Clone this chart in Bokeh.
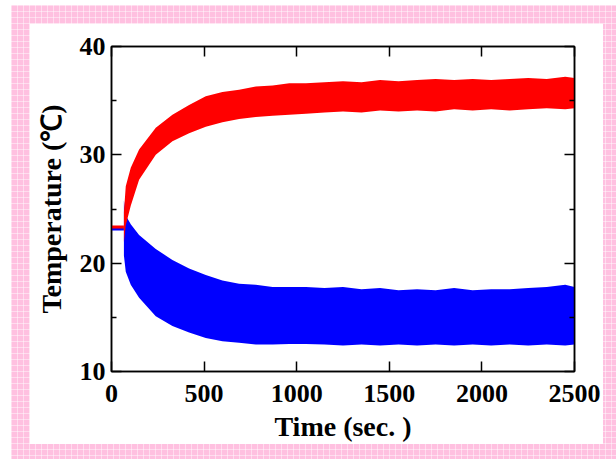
from bokeh.plotting import figure
from bokeh.layouts import column
from bokeh.models import Range1d, LinearAxis, FixedTicker
from bokeh.embed import file_html
from bokeh.resources import INLINE

# ---- data ----
init_time = [0, 67]
init_red = [23.35, 23.35]
init_blue = [23.15, 23.15]

band_time = [67, 77, 104, 149, 239, 329, 419, 509, 599, 689, 779, 870, 960, 1050,
             1150, 1250, 1350, 1450, 1550, 1650, 1750, 1850, 1950, 2050, 2150,
             2250, 2350, 2450, 2500]
red_hi = [24.7, 27.1, 28.8, 30.5, 32.5, 33.7, 34.6, 35.4, 35.8, 36.0, 36.3, 36.4, 36.6, 36.6,
          36.7, 36.8, 36.7, 36.9, 36.8, 36.9, 37.0, 36.9, 37.0, 36.9, 37.0,
          37.1, 37.0, 37.2, 37.1]
red_lo = [21.95, 23.5, 25.3, 27.7, 30.0, 31.25, 32.0, 32.6, 33.0, 33.3, 33.5, 33.6, 33.7, 33.8,
          33.9, 34.0, 33.9, 34.1, 34.0, 34.1, 34.0, 34.2, 34.1, 34.2, 34.1,
          34.2, 34.3, 34.2, 34.3]
blue_hi = [25.8, 24.4, 23.6, 22.6, 21.3, 20.3, 19.5, 18.9, 18.4, 18.1, 18.0, 17.8, 17.8, 17.8,
           17.7, 17.8, 17.6, 17.7, 17.5, 17.6, 17.5, 17.7, 17.5, 17.6, 17.6,
           17.7, 17.8, 18.0, 17.8]
blue_lo = [20.7, 19.2, 18.0, 16.8, 15.1, 14.2, 13.6, 13.1, 12.8, 12.65, 12.5, 12.5, 12.55, 12.55,
           12.5, 12.4, 12.5, 12.4, 12.5, 12.4, 12.5, 12.4, 12.5, 12.4, 12.5,
           12.4, 12.5, 12.4, 12.5]

x_ticks = [0, 500, 1000, 1500, 2000, 2500]
y_ticks = [10, 20, 30, 40]
y_minor = [15, 25, 35]

FONT = "Liberation Serif"

p = figure(width=574, height=421,
           x_range=Range1d(0, 2500), y_range=Range1d(10, 40),
           output_backend="svg", toolbar_location=None,
           min_border_left=82, min_border_right=29,
           min_border_top=23, min_border_bottom=70,
           x_axis_label="Time (sec. )", y_axis_label="Temperature (℃)",
           margin=(18, 13, 15, 18))
p.grid.visible = False
p.border_fill_color = "white"
p.background_fill_color = "white"
p.outline_line_color = "black"
p.outline_line_width = 1.5

xt = FixedTicker(ticks=x_ticks, minor_ticks=[])
yt = FixedTicker(ticks=y_ticks, minor_ticks=y_minor)


def style(ax):
    ax.major_tick_in = 10
    ax.major_tick_out = 0
    ax.minor_tick_in = 5
    ax.minor_tick_out = 0
    ax.axis_line_width = 1.5
    ax.major_tick_line_width = 1.5
    ax.minor_tick_line_width = 1.5
    ax.major_label_text_font = FONT
    ax.major_label_text_font_style = "bold"
    ax.major_label_text_font_size = "26px"
    ax.major_label_text_color = "black"
    ax.axis_label_text_font = FONT
    ax.axis_label_text_font_style = "bold"
    ax.axis_label_text_font_size = "28px"
    ax.axis_label_text_color = "black"


p.xaxis.ticker = xt
p.yaxis.ticker = yt
style(p.xaxis[0])
style(p.yaxis[0])
p.xaxis[0].major_label_standoff = 13
p.xaxis[0].axis_label_standoff = 6
p.yaxis[0].major_label_standoff = 6
p.yaxis[0].axis_label_standoff = 10

top_ax = LinearAxis(ticker=xt, major_label_overrides={t: "" for t in x_ticks})
right_ax = LinearAxis(ticker=yt, major_label_overrides={t: "" for t in y_ticks})
style(top_ax)
style(right_ax)
top_ax.major_label_standoff = 0
right_ax.major_label_standoff = 0
p.add_layout(top_ax, "above")
p.add_layout(right_ax, "right")

# series
p.line(init_time, init_blue, color="#0000ff", line_width=3)
p.varea(x=band_time, y1=blue_lo, y2=blue_hi, color="#0000ff")
p.line(init_time, init_red, color="#ff0000", line_width=3)
p.varea(x=band_time, y1=red_lo, y2=red_hi, color="#ff0000")

page = column(p, margin=(5, 0, 0, 11), styles={
    "background-color": "#ffc0e0",
    "background-image": "linear-gradient(90deg, rgba(255,255,255,0.45) 1px, transparent 1px), "
                        "linear-gradient(rgba(255,255,255,0.45) 1px, transparent 1px)",
    "background-size": "6px 6px",
})

open("out.html", "w").write(file_html(page, INLINE))
